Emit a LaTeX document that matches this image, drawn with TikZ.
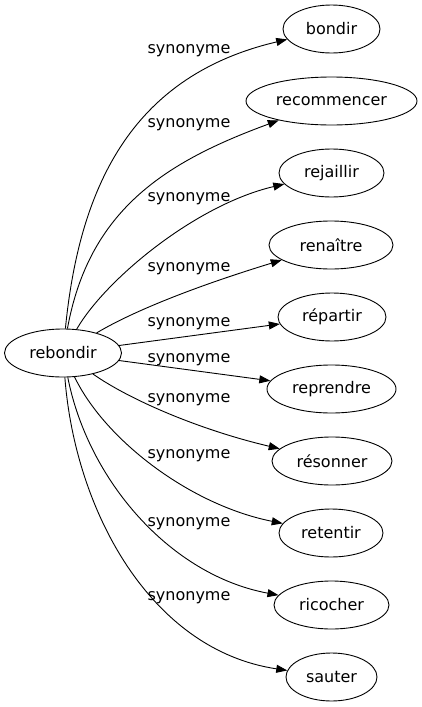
\documentclass[tikz,border=0pt]{standalone}
\usepackage{fontspec}
\setmainfont{DejaVu Sans}
\usetikzlibrary{shapes.geometric,arrows.meta}

\begin{document}
\begin{tikzpicture}[x=1pt,y=-1pt,
		word/.style={draw, ellipse, inner sep=0pt, minimum height=48pt, minimum width=#1},
		syn/.style={inner sep=0pt},
		>={Triangle[length=11pt,width=8pt]},
		line width=0.9pt, font=\fontsize{16}{19}\selectfont]
		\useasboundingbox (0,0) rectangle (422,707);

		\node[word=117pt] (reb) at (63,353) {rebondir};

		\node[word=97pt] (bon) at (331.5,29) {bondir};
		\node[word=171pt] (rec) at (331.5,101) {recommencer};
		\node[word=105pt] (rej) at (331.5,173) {rejaillir};
		\node[word=124pt] (ren) at (331,245) {renaître};
		\node[word=108pt] (rep) at (332,317) {répartir};
		\node[word=129pt] (repr) at (331.5,389) {reprendre};
		\node[word=120pt] (res) at (332,461) {résonner};
		\node[word=104pt] (ret) at (331,533) {retentir};
		\node[word=115pt] (ric) at (331.5,605) {ricocher};
		\node[word=91pt] (sau) at (331.5,677) {sauter};

		\draw[->] (reb) .. controls (80,180) and (136,75) .. (bon);
		\draw[->] (reb) .. controls (89,210) and (165,162) .. (rec);
		\draw[->] (reb) .. controls (105,280) and (195,205) .. (rej);
		\draw[->] (reb) .. controls (135,310) and (200,285) .. (ren);
		\draw[->] (reb) -- (rep);
		\draw[->] (reb) -- (repr);
		\draw[->] (reb) .. controls (130,400) and (200,430) .. (res);
		\draw[->] (reb) .. controls (105,440) and (190,505) .. (ret);
		\draw[->] (reb) .. controls (88,480) and (170,575) .. (ric);
		\draw[->] (reb) .. controls (75,510) and (150,650) .. (sau);

		\node[syn] (s1) at (189,51) {synonyme};
		\node[syn] (s2) at (189,125) {synonyme};
		\node[syn] (s3) at (189,199) {synonyme};
		\node[syn] (s4) at (189,269) {synonyme};
		\node[syn] (s5) at (189,324) {synonyme};
		\node[syn] (s6) at (189,360) {synonyme};
		\node[syn] (s7) at (189,400) {synonyme};
		\node[syn] (s8) at (189,456) {synonyme};
		\node[syn] (s9) at (189,524) {synonyme};
		\node[syn] (s10) at (189,598) {synonyme};

	\end{tikzpicture}
\end{document}
